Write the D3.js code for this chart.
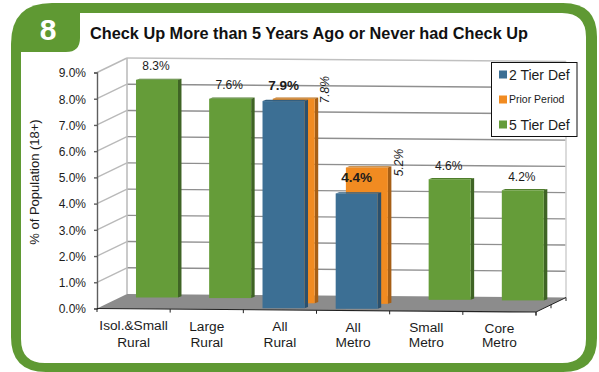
<!DOCTYPE html>
<html><head><meta charset="utf-8">
<script src="https://cdnjs.cloudflare.com/ajax/libs/d3/7.8.5/d3.min.js"></script>
<style>html,body{margin:0;padding:0;background:#fff}svg{display:block}text{font-family:"Liberation Sans",Arial,sans-serif;fill:#1c1c1c}</style>
</head><body><svg id="c" width="599" height="372"></svg>
<script>
const categories=[["Isol.&Small","Rural"],["Large","Rural"],["All","Rural"],["All","Metro"],["Small","Metro"],["Core","Metro"]];
const twoTier=[null,null,7.9,4.4,null,null];
const priorPeriod=[null,null,7.8,5.2,null,null];
const fiveTier=[8.3,7.6,null,null,4.6,4.2];
const yTicks=[0,1,2,3,4,5,6,7,8,9];
const legendLabels=["2 Tier Def","Prior Period","5 Tier Def"];
const title="Check Up More than 5 Years Ago or Never had Check Up";

const GREEN="#659c39",BLUE="#3c6f94",ORANGE="#f18b21";
const svg=d3.select("#c");
const frame=svg.append("g");
// frame
const G="#5f9933";
frame.append("path").attr("fill",G).attr("d","M52 3H563Q597 3 597 37V338Q597 372 563 372H46Q11 372 11 337V44Q11 3 52 3Z");
frame.append("path").attr("fill","#fff").attr("d","M80 13H562Q586 13 586 37V339Q586 363 562 363H45Q21 363 21 339V52H66Q80 52 80 38Z");
frame.append("text").attr("x",48).attr("y",40).attr("text-anchor","middle").attr("font-size",30).attr("font-weight","bold").style("fill","#fff").text("8");
frame.append("text").attr("x",90).attr("y",39).attr("font-size",16.3).attr("font-weight","bold").style("fill","#111").text(title);

// projection
const x=d3.scaleLinear().domain([0,categories.length]).range([97,536]);
const floorY=d3.scaleLinear().domain([97,536]).range([308.5,312]);
const h=d3.scaleLinear().domain([0,9]).range([0,236]);
const DX=30,DY=-14.5;
const P=(c,depth,v)=>{const px=x(c);return [px+depth*DX,floorY(px)+depth*DY-h(v||0)];};

const g=svg.append("g");
// floor
const fl=[P(0,0,0),P(0,1,0),P(6,1,0),P(6,0,0)];
g.append("polygon").attr("points",fl.join(" ")).attr("fill","#8c8c8c");
// gridlines
yTicks.forEach(v=>{
  const a=P(0,0,v),b=P(0,1,v),c=P(6,1,v);
  if(v>0){
    g.append("line").attr("x1",a[0]).attr("y1",a[1]).attr("x2",b[0]).attr("y2",b[1]).attr("stroke","#b9b9b9").attr("stroke-width",1.4);
    g.append("line").attr("x1",b[0]).attr("y1",b[1]).attr("x2",c[0]).attr("y2",c[1]).attr("stroke",v===9?"#c0c0c0":"#8f8f8f").attr("stroke-width",v===9?1.6:1.4);
  }
});
[0,6].forEach((c,i)=>{
  const a=P(c,1,0),b=P(c,1,9);
  g.append("line").attr("x1",a[0]).attr("y1",a[1]).attr("x2",b[0]).attr("y2",b[1]).attr("stroke",i?"#d2d2d2":"#bdbdbd").attr("stroke-width",1.6);
});

// bars
const BW=42,SW=3.5,SH=-1.2;
function bars(vals,depth,fill,side,cap){
  const b=g.append("g");
  vals.forEach((v,i)=>{
    if(v==null)return;
    const [cx,y0]=P(i+.5,depth,0);
    const yT=y0-h(v),L=cx-BW/2,R=cx+BW/2;
    b.append("polygon").attr("points",[[L,yT],[L+SW,yT+SH],[R+SW,yT+SH],[R,yT]].join(" ")).attr("fill",cap);
    b.append("polygon").attr("points",[[R,yT],[R+SW,yT+SH],[R+SW,y0+SH],[R,y0]].join(" ")).attr("fill",side);
    b.append("rect").attr("x",L).attr("y",yT).attr("width",BW).attr("height",y0-yT).attr("fill",fill);
  });
}
const dGreen=.78,dOrange=.46,dBlue=.12;
bars(fiveTier,dGreen,GREEN,"#3f6425","#4f7d2c");
bars(priorPeriod,dOrange,ORANGE,"#a65f16","#b9701c");
bars(twoTier,dBlue,BLUE,"#2b506d","#335f80");

// y axis
const yAxisScale=d3.scaleLinear().domain([0,9]).range([P(0,0,0)[1],P(0,0,9)[1]]);
const ya=svg.append("g").attr("transform","translate(97,0)").call(d3.axisLeft(yAxisScale).tickValues(yTicks).tickSize(3).tickPadding(8).tickFormat(d=>d3.format(".1f")(d)+"%"));
ya.selectAll("path,line").attr("stroke","#5e5e5e").attr("stroke-width",1.4);
ya.selectAll("text").attr("font-size",12).attr("font-family","Liberation Sans").attr("dy","0.36em");
// front axis
const ax=svg.append("g");
const a0=P(0,0,0),a1=P(6,0,0);
ax.append("line").attr("x1",a0[0]).attr("y1",a0[1]).attr("x2",a1[0]).attr("y2",a1[1]).attr("stroke","#222").attr("stroke-width",1.2);
d3.range(0,7).forEach(i=>{const p=P(i,0,0);ax.append("line").attr("x1",p[0]).attr("y1",p[1]).attr("x2",p[0]).attr("y2",p[1]+3.5).attr("stroke","#222").attr("stroke-width",1);});
// depth edge
const d1=P(6,1,0);
ax.append("line").attr("x1",a1[0]).attr("y1",a1[1]).attr("x2",d1[0]).attr("y2",d1[1]).attr("stroke","#222").attr("stroke-width",1);
[0,.5,1].forEach(t=>{const p=P(6,t,0);ax.append("line").attr("x1",p[0]).attr("y1",p[1]).attr("x2",p[0]).attr("y2",p[1]+3.5).attr("stroke","#222").attr("stroke-width",1);});
// category labels
categories.forEach((c,i)=>{
  const p=P(i+.5,0,0);
  c.forEach((t,j)=>svg.append("text").attr("x",p[0]).attr("y",j?346.5+i*.1:330+i*.5).attr("text-anchor","middle").attr("font-size",13.7).text(t));
});
svg.append("text").attr("transform","translate(39,182) rotate(-90)").attr("text-anchor","middle").attr("font-size",13).text("% of Population (18+)");

// value labels
const fmt=v=>d3.format(".1f")(v)+"%";
fiveTier.forEach((v,i)=>{if(v==null)return;const [cx,y0]=P(i+.5,dGreen,0);
  svg.append("text").attr("x",cx-1).attr("y",y0-h(v)-9.5).attr("text-anchor","middle").attr("font-size",12).text(fmt(v));});
twoTier.forEach((v,i)=>{if(v==null)return;const [cx,y0]=P(i+.5,dBlue,0);
  svg.append("text").attr("x",cx).attr("y",y0-h(v)-11).attr("text-anchor","middle").attr("font-size",13.5).attr("font-weight","bold").text(fmt(v));});
priorPeriod.forEach((v,i)=>{if(v==null)return;const [cx,y0]=P(i+.5,dOrange,0);
  svg.append("text").attr("transform",`translate(${cx+(v>6?35:36.5)},${y0-h(v)-(v>6?9:5)}) rotate(-90)`).attr("text-anchor","middle").attr("font-size",12).attr("font-style","italic").text(fmt(v));});

// legend
const lg=svg.append("g");
lg.append("rect").attr("x",491.5).attr("y",62.5).attr("width",85.5).attr("height",74).attr("fill","#fff").attr("stroke","#111").attr("stroke-width",1);
const lc=[BLUE,ORANGE,GREEN],ly=[74.5,99.5,124.5];
legendLabels.forEach((t,i)=>{
  lg.append("rect").attr("x",499).attr("y",ly[i]-4).attr("width",8).attr("height",8).attr("fill",lc[i]);
  lg.append("text").attr("x",509).attr("y",ly[i]+(i===1?3.5:5)).attr("font-size",i===1?10.5:14).text(t);
});
</script></body></html>
